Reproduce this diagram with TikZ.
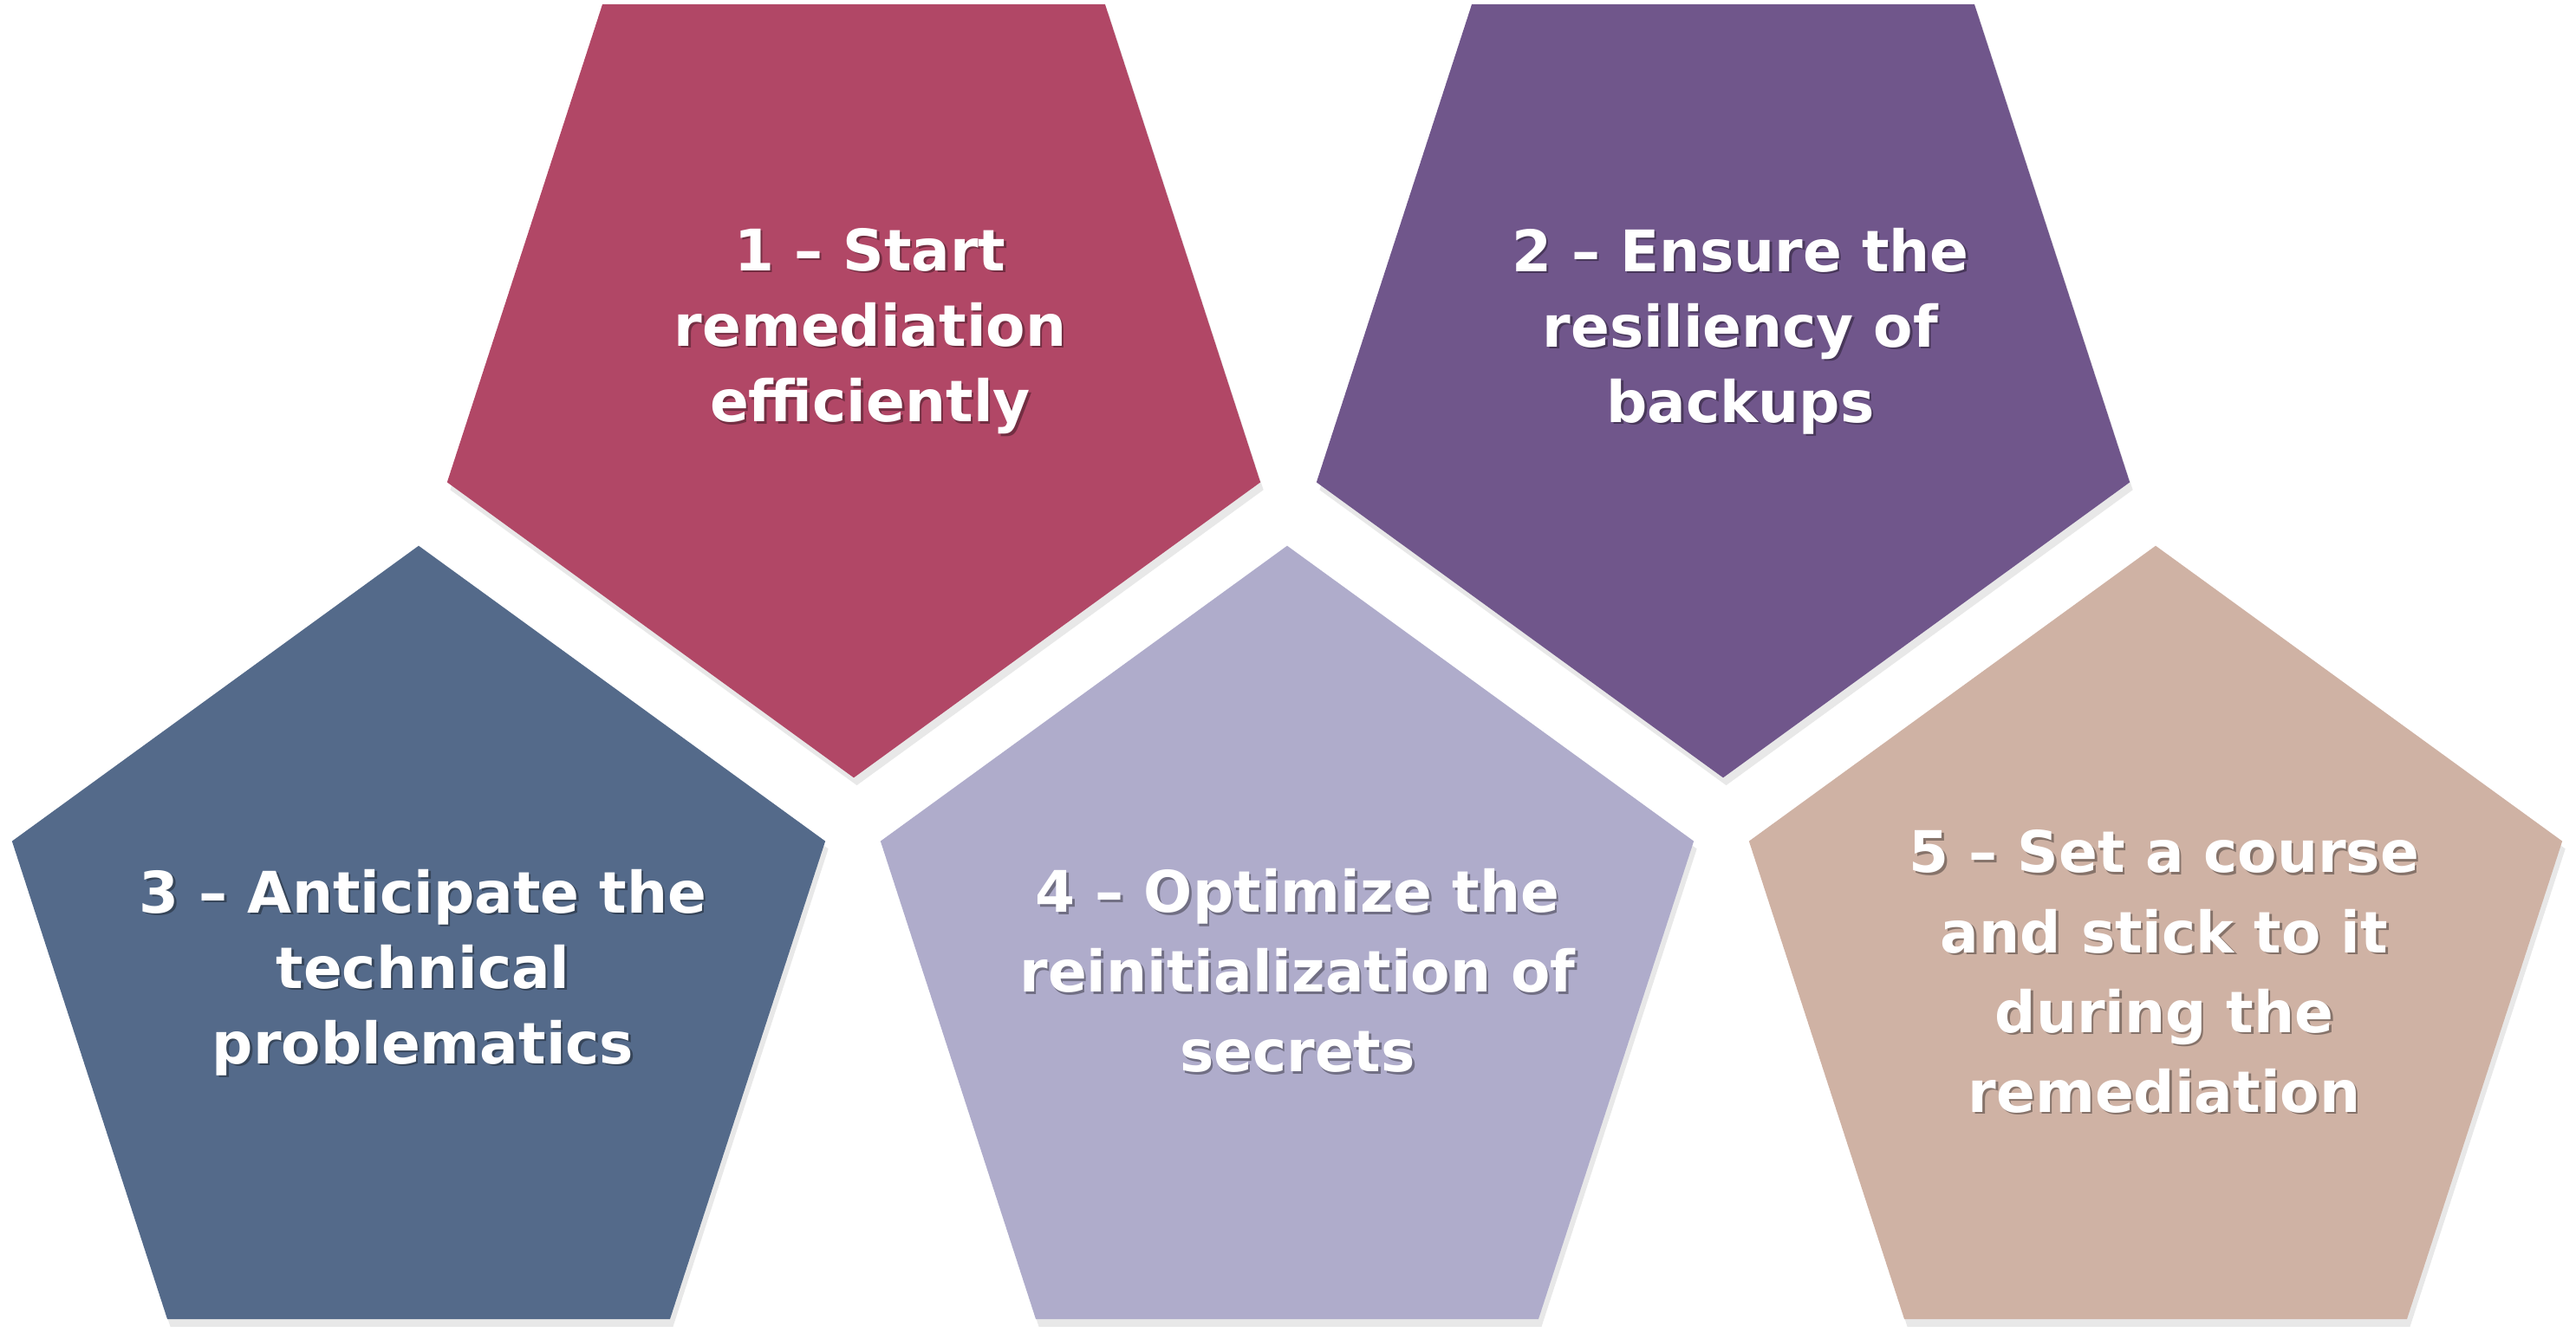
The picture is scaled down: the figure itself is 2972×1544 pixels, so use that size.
\documentclass[tikz,border=0pt]{standalone}
\usepackage{fontspec}
\setmainfont{DejaVu Sans}
\usepackage{xcolor}
\definecolor{steprose}{RGB}{177,71,102}
\definecolor{stepplum}{RGB}{112,86,139}
\definecolor{stepslate}{RGB}{84,106,138}
\definecolor{steplilac}{RGB}{175,172,203}
\definecolor{stepsand}{RGB}{207,178,164}
\usepackage{tikz}
\usetikzlibrary{shapes.geometric, shadows}

\tikzset{
  penta/.style={regular polygon, regular polygon sides=5, minimum size=9.86cm,
    inner sep=0pt, outer sep=0pt, draw=none,
    drop shadow={opacity=0.18, shadow xshift=1pt, shadow yshift=-2.5pt}},
  pentadown/.style={penta, shape border rotate=180},
  steptext/.style={text=white, font=\fontsize{18.8}{24.8}\selectfont\bfseries,
    align=center, inner sep=0pt},
  looselines/.style={font=\fontsize{18.8}{26.2}\selectfont\bfseries},
  steptextshadow/.style={steptext, text=black, text opacity=0.35}
}
% label with a soft shadow behind it
\newcommand{\steplabel}[4][]{%
  \node[steptextshadow, #1] at ([shift={(2.5,2.5)}]#2) {#4};
  \node[steptext, #1] (#3) at (#2) {#4};
}

\begin{document}
\begin{tikzpicture}[x=0.01cm, y=-0.01cm]
\useasboundingbox (0,0) rectangle (2972,1544);

% Top row
\node[pentadown, fill=steprose] (p1) at (985,404) {};
\node[pentadown, fill=stepplum] (p2) at (1988,404) {};

% Bottom row
\node[penta, fill=stepslate] (p3) at (483,1123) {};
\node[penta, fill=steplilac] (p4) at (1485,1123) {};
\node[penta, fill=stepsand] (p5) at (2487,1123) {};

% Labels
\steplabel{1004,382}{t1}{1 – Start\\remediation\\efficiently}
\steplabel{2008,382}{t2}{2 – Ensure the\\resiliency of\\backups}
\steplabel{488,1122}{t3}{3 – Anticipate the\\technical\\problematics}
\steplabel[looselines]{1497,1120}{t4}{4 – Optimize the\\reinitialization of\\secrets}
\steplabel[looselines]{2497,1121}{t5}{5 – Set a course\\and stick to it\\during the\\remediation}

\end{tikzpicture}
\end{document}
